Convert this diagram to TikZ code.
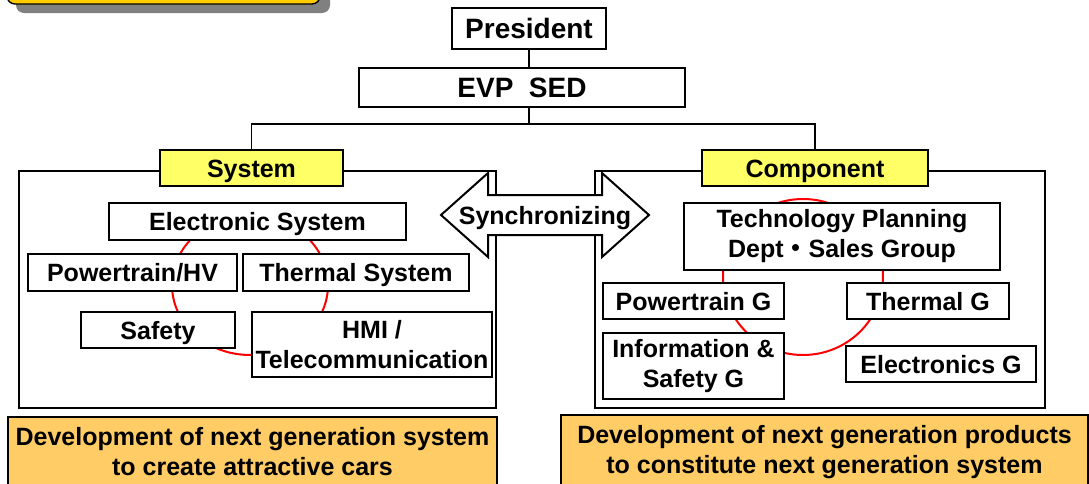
\documentclass[tikz,border=0pt]{standalone}
\usepackage{fontspec}
\setmainfont{Liberation Sans}
\newfontfamily\cjkdot{Noto Sans CJK JP}
\usepackage{tikz}

\definecolor{tagyellow}{HTML}{FFFF66}
\definecolor{goalorange}{HTML}{FFCC66}
\definecolor{badgeyellow}{HTML}{FFCC00}
\definecolor{badgeshadow}{HTML}{808080}

\begin{document}
\begin{tikzpicture}[x=0.5pt,y=-0.5pt,
	unit/.style={draw,fill=white,line width=1.1pt,inner sep=0pt,align=center,
		font=\fontsize{12.5}{15}\selectfont\bfseries},
	one/.style={text height=9pt,text depth=0pt},
	head/.style={unit,one,font=\fontsize{14}{16}\selectfont\bfseries,text height=10pt},
	tag/.style={unit,one,fill=tagyellow},
	goal/.style={unit,fill=goalorange,line width=0.8pt},
	frame/.style={draw,line width=1.1pt},
	ring/.style={draw,red,line width=1pt}]

\useasboundingbox (0,0) rectangle (1089,483);
\clip (0,0) rectangle (1089,483);

\fill [badgeshadow,rounded corners=4pt] (16,-30) rectangle (330,13);
\filldraw [fill=badgeyellow,draw=black,line width=0.7pt,rounded corners=4pt] (7,-40) rectangle (320,4);

\node [head,minimum width=77pt,minimum height=20.5pt] (pres) at (529,28.5) {President};
\node [head,minimum width=163pt,minimum height=19.5pt] (evp) at (522,87.5) {EVP\ \ SED};
\coordinate (split) at (529,124);

\draw [frame] (19,171) rectangle (496,408);
\draw [frame] (595,171) rectangle (1045,408);

\draw [ring] (250,285) ellipse [x radius=39pt,y radius=35pt];
\draw [ring] (803,277) ellipse [x radius=40pt,y radius=39pt];

\node [tag,minimum width=91.5pt,minimum height=18pt] (sys) at (251.5,168) {System};
\node [tag,minimum width=113pt,minimum height=18pt] (comp) at (815,168) {Component};

\draw [line width=0.8pt] (pres.south) -- (pres |- evp.north);
\draw [line width=0.8pt] (evp.south -| split) -- (split);
\draw [line width=0.8pt] (sys.north) |- (split) -| (comp.north);

\node [unit,one,minimum width=148.5pt,minimum height=18.5pt] (elec) at (257.5,221.5) {Electronic System};
\node [unit,one,minimum width=104.5pt,minimum height=18.5pt] (pthv) at (132.5,272.5) {Powertrain/HV};
\node [unit,one,minimum width=113pt,minimum height=18.5pt] (thermsys) at (356,272.5) {Thermal System};
\node [unit,one,minimum width=77pt,minimum height=18pt] (safety) at (158,330) {Safety};
\node [unit,minimum width=120pt,minimum height=32.5pt] (hmi) at (372,344.5) {HMI /\\Telecommunication};

\node [unit,minimum width=158pt,minimum height=33.5pt] (tech) at (842,236.5) {Technology Planning\\Dept{\cjkdot ・}Sales Group};
\node [unit,one,minimum width=90.5pt,minimum height=18pt] (ptg) at (693.5,301) {Powertrain G};
\node [unit,one,minimum width=81pt,minimum height=18pt] (thermg) at (928,301) {Thermal G};
\node [unit,minimum width=90.5pt,minimum height=33pt] (infosafe) at (693.5,366) {Information \&\\Safety G};
\node [unit,one,minimum width=95pt,minimum height=18pt] (elecg) at (941,364) {Electronics G};

\filldraw [fill=white,line width=1pt,line join=miter] (441,215) -- (488,173) -- (488,195) -- (602,195) -- (602,173)
	-- (649,215) -- (602,257) -- (602,235) -- (488,235) -- (488,257) -- cycle;
\node [font=\fontsize{12.5}{15}\selectfont\bfseries,inner sep=0pt,text height=9pt,text depth=0pt] (sync) at (545,215) {Synchronizing};

\node [goal,minimum width=244.5pt,minimum height=35pt] (goalsys) at (252.5,452) {Development of next generation system\\to create attractive cars};
\node [goal,minimum width=263.5pt,minimum height=37pt] (goalcomp) at (824.5,452) {Development of next generation products\\to constitute next generation system};
\end{tikzpicture}
\end{document}
